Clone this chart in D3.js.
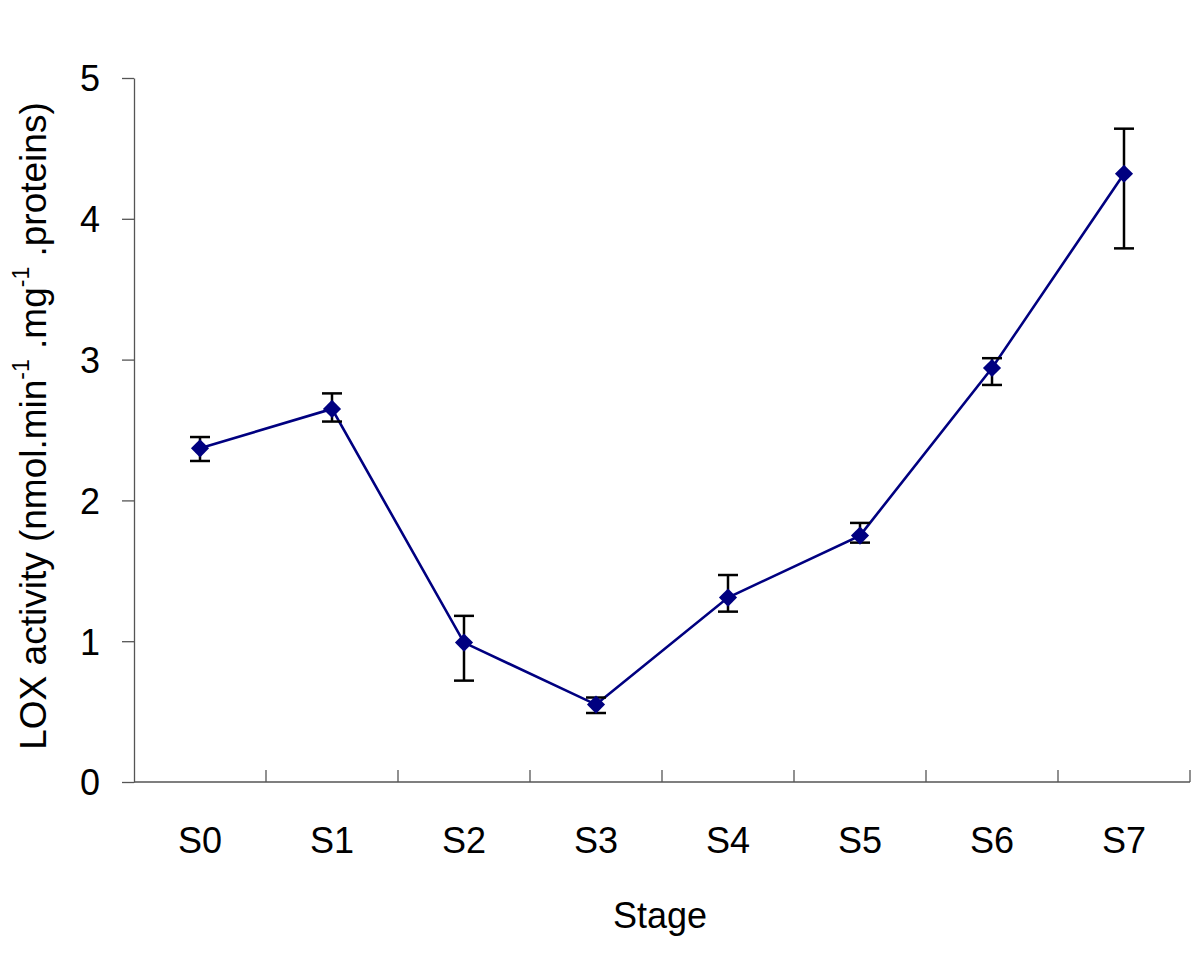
<!DOCTYPE html>
<html>
<head>
<meta charset="utf-8">
<script src="https://cdn.jsdelivr.net/npm/d3@7"></script>
<style>
  body { margin: 0; background: #fff; }
  text { font-family: "Liberation Sans", Arial, sans-serif; fill: #000; }
</style>
</head>
<body>
<script>
const width = 1200,
  height = 959;

// data
const stages = ['S0', 'S1', 'S2', 'S3', 'S4', 'S5', 'S6', 'S7'];
const lox = [2.37, 2.65, 0.99, 0.55, 1.31, 1.75, 2.94, 4.32];
const errHigh = [2.45, 2.76, 1.18, 0.60, 1.47, 1.84, 3.01, 4.64];
const errLow = [2.28, 2.56, 0.72, 0.49, 1.21, 1.70, 2.82, 3.79];
const yTicks = [0, 1, 2, 3, 4, 5];

const margin = { left: 134, right: 10, top: 78, bottom: 177 };

const svg = d3
  .select('body')
  .append('svg')
  .attr('width', width)
  .attr('height', height);

const x = d3
  .scaleBand()
  .domain(stages)
  .range([margin.left, width - margin.right]);

const y = d3
  .scaleLinear()
  .domain([0, 5])
  .range([height - margin.bottom, margin.top]);

const axisColor = '#555';

// y axis: ticks pointing out
const yAxis = svg
  .append('g')
  .attr('transform', `translate(${margin.left},0)`)
  .call(
    d3.axisLeft(y).tickValues(yTicks).tickFormat(d3.format('d'))
      .tickSize(12).tickSizeOuter(0).tickPadding(22)
  );
yAxis.select('.domain').attr('stroke', axisColor).attr('stroke-width', 1.3);
yAxis.selectAll('.tick line').attr('stroke', axisColor).attr('stroke-width', 1.3);
yAxis.selectAll('.tick text')
  .attr('font-size', 36)
  .attr('dy', '0.36em')
  .attr('font-family', '"Liberation Sans", Arial, sans-serif');

// x axis: ticks at band boundaries, pointing in
const xAxisG = svg.append('g').attr('transform', `translate(0,${y(0)})`);
xAxisG
  .append('line')
  .attr('x1', x.range()[0])
  .attr('x2', x.range()[1])
  .attr('stroke', axisColor)
  .attr('stroke-width', 1.3);
xAxisG
  .selectAll('line.tk')
  .data(stages)
  .join('line')
  .attr('class', 'tk')
  .attr('x1', d => x(d) + x.bandwidth())
  .attr('x2', d => x(d) + x.bandwidth())
  .attr('y1', 0)
  .attr('y2', -12)
  .attr('stroke', axisColor)
  .attr('stroke-width', 1.3);
xAxisG
  .selectAll('text')
  .data(stages)
  .join('text')
  .attr('x', d => x(d) + x.bandwidth() / 2)
  .attr('y', 71)
  .attr('text-anchor', 'middle')
  .attr('font-size', 36)
  .text(d => d);

// axis titles
svg
  .append('text')
  .attr('x', 660)
  .attr('y', 928)
  .attr('text-anchor', 'middle')
  .attr('font-size', 36)
  .text('Stage');

const yTitle = svg
  .append('text')
  .attr('transform', `translate(46,${(y(0) + y(5)) / 2 - 4}) rotate(-90)`)
  .attr('text-anchor', 'middle')
  .attr('font-size', 37);
yTitle.append('tspan').text('LOX activity (nmol.min');
yTitle.append('tspan').attr('dy', -17).attr('font-size', 23).text('-1');
yTitle.append('tspan').attr('dy', 17).text(' .mg');
yTitle.append('tspan').attr('dy', -17).attr('font-size', 23).text('-1');
yTitle.append('tspan').attr('dy', 17).text(' .proteins)');

const cx = d => x(d) + x.bandwidth() / 2;

// line
svg
  .append('path')
  .datum(stages)
  .attr('fill', 'none')
  .attr('stroke', '#000080')
  .attr('stroke-width', 2.6)
  .attr('d', d3.line().x(d => cx(d)).y((d, i) => y(lox[i])));

// error bars
const eb = svg.append('g').attr('stroke', '#000').attr('stroke-width', 2.5);
eb.selectAll('line.v')
  .data(stages)
  .join('line')
  .attr('class', 'v')
  .attr('x1', d => cx(d))
  .attr('x2', d => cx(d))
  .attr('y1', (d, i) => y(errHigh[i]))
  .attr('y2', (d, i) => y(errLow[i]));
eb.selectAll('line.hi')
  .data(stages)
  .join('line')
  .attr('class', 'hi')
  .attr('x1', d => cx(d) - 10)
  .attr('x2', d => cx(d) + 10)
  .attr('y1', (d, i) => y(errHigh[i]))
  .attr('y2', (d, i) => y(errHigh[i]));
eb.selectAll('line.lo')
  .data(stages)
  .join('line')
  .attr('class', 'lo')
  .attr('x1', d => cx(d) - 10)
  .attr('x2', d => cx(d) + 10)
  .attr('y1', (d, i) => y(errLow[i]))
  .attr('y2', (d, i) => y(errLow[i]));

// diamond markers
svg
  .selectAll('path.mk')
  .data(stages)
  .join('path')
  .attr('class', 'mk')
  .attr('d', d3.symbol(d3.symbolDiamond2, 210))
  .attr('transform', (d, i) => `translate(${cx(d)},${y(lox[i])})`)
  .attr('fill', '#000080');
</script>
</body>
</html>
